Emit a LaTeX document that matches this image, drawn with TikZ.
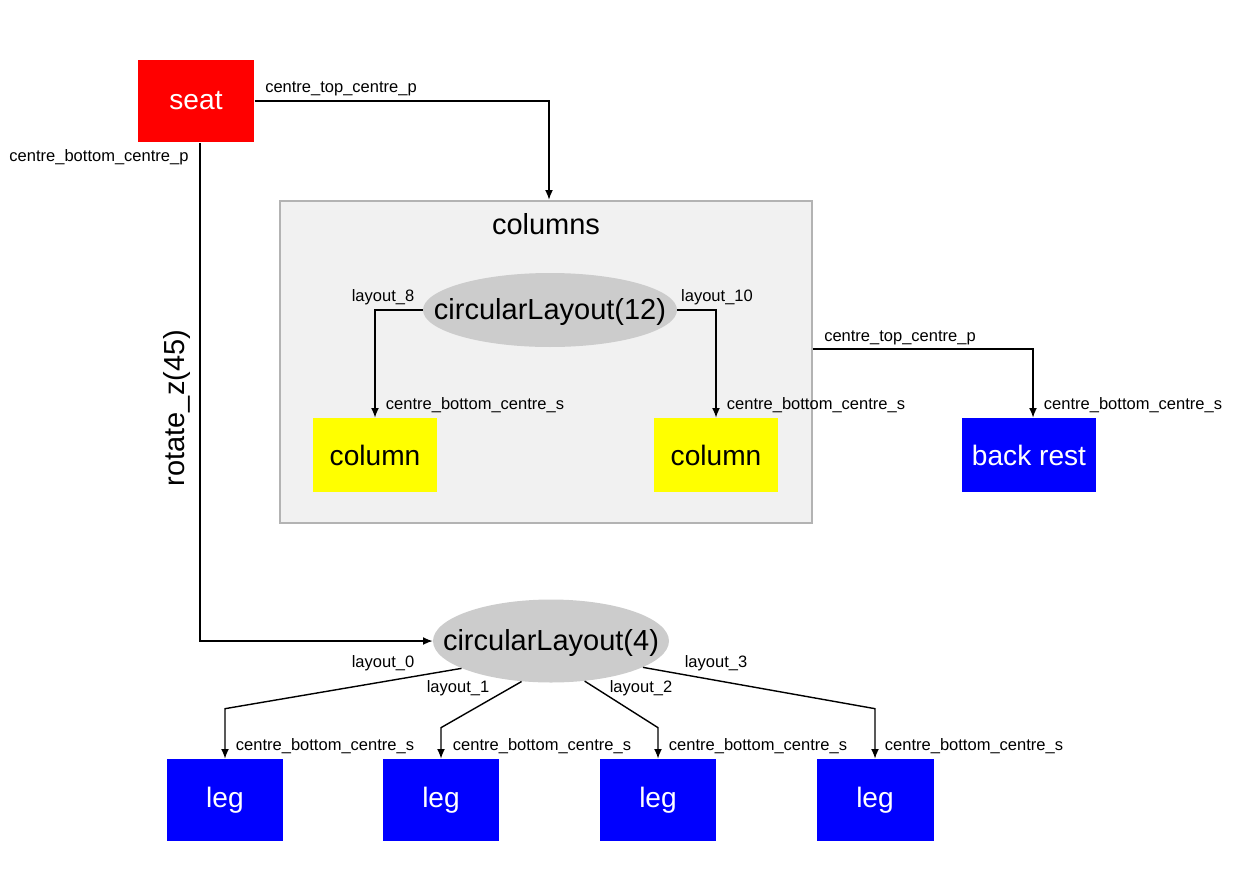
\documentclass[tikz,border=0pt]{standalone}
\usepackage{fontspec}
\setmainfont{Liberation Sans}
\usetikzlibrary{shapes.geometric, arrows.meta}
\definecolor{boxgrey}{HTML}{F1F1F1}
\definecolor{boxline}{HTML}{B3B3B3}
\definecolor{ellgrey}{HTML}{CCCCCC}
\definecolor{partyellow}{HTML}{FFFF00}
\begin{document}
\begin{tikzpicture}[x=0.02cm, y=-0.02cm,
  part/.style={shape=rectangle, inner sep=0pt, minimum width=2.34cm, minimum height=1.64cm, font=\fontsize{16}{18}\selectfont},
  redpart/.style={part, fill=red, text=white},
  yellowpart/.style={part, fill=partyellow, minimum width=2.48cm, minimum height=1.48cm},
  bluepart/.style={part, fill=blue, text=white},
  layout/.style={shape=ellipse, fill=ellgrey, inner sep=0pt},
  biglbl/.style={font=\fontsize{16.5}{18}\selectfont, inner sep=0pt},
  lbl/.style={font=\fontsize{9.4}{11}\selectfont, inner sep=0pt},
  conn/.style={-{Latex[length=5.5pt, width=4.5pt]}, line width=0.8pt}]
\useasboundingbox (0, 0) rectangle (1250, 883);
% parts
\node at (196, 101) [redpart, minimum height=1.66cm] (seat) {seat};
\node at (546, 362) [shape=rectangle, draw=boxline, fill=boxgrey, line width=1.5pt, minimum width=10.64cm, minimum height=6.44cm] (columns) {};
\node at (546, 224) [biglbl] (columnstitle) {columns};
\node at (550, 310) [layout, minimum width=5.08cm, minimum height=1.48cm, label={[biglbl, yshift=-0.03cm]center:circularLayout(12)}] (layout12) {};
\node at (375, 455) [yellowpart] (column8) {column};
\node at (716, 455) [yellowpart] (column10) {column};
\node at (1029, 455) [bluepart, minimum width=2.68cm, minimum height=1.48cm] (backrest) {back rest};
\node at (551, 641) [layout, minimum width=4.72cm, minimum height=1.66cm, label={[biglbl, yshift=-0.03cm]center:circularLayout(4)}] (layout4) {};
\foreach \i/\x in {0/225, 1/441, 2/658, 3/875}
  \node at (\x, 800) [bluepart] (leg\i) {leg};
% labels
\node at (341, 89) [lbl] (seattop) {centre\_top\_centre\_p};
\node at (99, 157) [lbl] (seatbottom) {centre\_bottom\_centre\_p};
\node at (177, 408) [biglbl, rotate=90] (rotz) {rotate\_z(45)};
\node at (383, 297) [lbl] (lay8) {layout\_8};
\node at (717, 297) [lbl] (lay10) {layout\_10};
\node at (475, 405) [lbl] (col8bottom) {centre\_bottom\_centre\_s};
\node at (816, 405) [lbl] (col10bottom) {centre\_bottom\_centre\_s};
\node at (900, 338) [lbl] (columnstop) {centre\_top\_centre\_p};
\node at (1133, 405) [lbl] (backbottom) {centre\_bottom\_centre\_s};
\node at (383, 663) [lbl] (lay0) {layout\_0};
\node at (458, 688) [lbl] (lay1) {layout\_1};
\node at (641, 688) [lbl] (lay2) {layout\_2};
\node at (716, 663) [lbl] (lay3) {layout\_3};
\foreach \i/\x in {0/325, 1/542, 2/758, 3/974}
  \node at (\x, 746) [lbl] (leg\i bottom) {centre\_bottom\_centre\_s};
% connectors
\draw [conn] (seat.east) -| ([xshift=0.06cm]columns.north);
\draw [conn] ([xshift=0.08cm]seat.south) |- (layout4.west);
\draw [conn] (layout12.west) -| (column8.north);
\draw [conn] (layout12.east) -| (column10.north);
\draw [conn] ([yshift=0.26cm]columns.east) -| ([xshift=0.08cm]backrest.north);
\foreach \i/\a/\h in {0/197/1cm, 1/234/0.62cm, 2/310/0.62cm, 3/344/1cm}
  \draw [conn] (layout4.\a) -- ([yshift=\h]leg\i.north) -- (leg\i.north);
\end{tikzpicture}
\end{document}
